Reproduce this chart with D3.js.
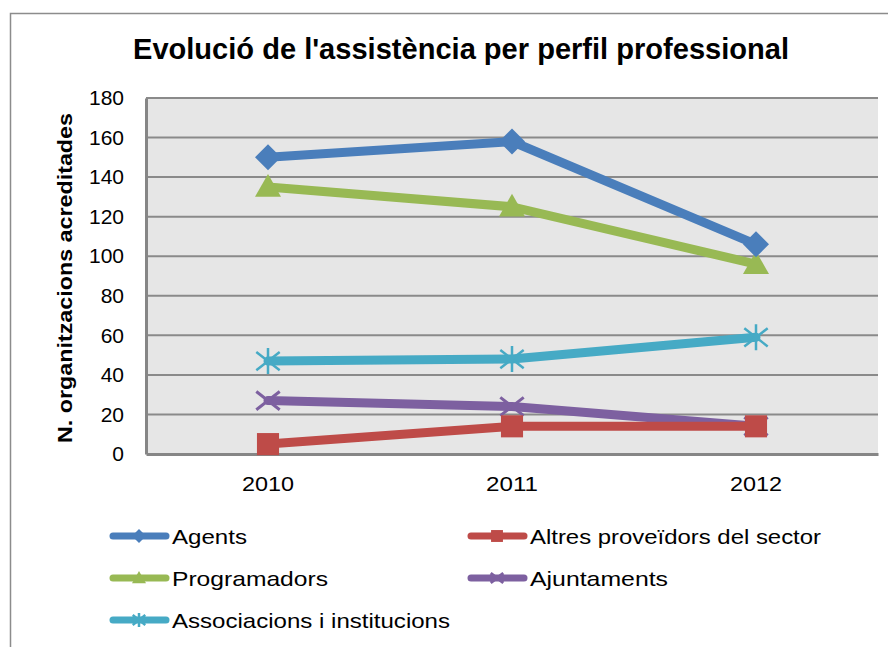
<!DOCTYPE html>
<html>
<head>
<meta charset="utf-8">
<script src="https://cdn.jsdelivr.net/npm/d3@7"></script>
<style>
html,body{margin:0;padding:0;background:#fff;}
svg{display:block;font-family:"Liberation Sans",Arial,sans-serif;}
</style>
</head>
<body>
<svg id="chart" width="888" height="647"></svg>
<script>
const years = ["2010", "2011", "2012"];
const seriesNames = ["Agents", "Altres proveïdors del sector", "Programadors", "Ajuntaments", "Associacions i institucions"];
const agents = [150, 158, 106];
const altres = [5, 14, 14];
const programadors = [135, 125, 96];
const ajuntaments = [27, 24, 14];
const associacions = [47, 48, 59];
const yTicks = [0, 20, 40, 60, 80, 100, 120, 140, 160, 180];
const colors = ["#4A7EBB", "#BE4B48", "#98B954", "#7D60A0", "#46AAC5"];
const markers = ["diamond", "square", "triangle", "x", "star"];

const series = [
  {name: seriesNames[0], values: agents, color: colors[0], marker: markers[0]},
  {name: seriesNames[1], values: altres, color: colors[1], marker: markers[1]},
  {name: seriesNames[2], values: programadors, color: colors[2], marker: markers[2]},
  {name: seriesNames[3], values: ajuntaments, color: colors[3], marker: markers[3]},
  {name: seriesNames[4], values: associacions, color: colors[4], marker: markers[4]}
];
const drawOrder = [4, 3, 1, 2, 0];

const svg = d3.select("#chart");
const plot = {left: 146, right: 878, top: 98, bottom: 454};

svg.append("rect").attr("x", 10.5).attr("y", 13.5).attr("width", 900).attr("height", 700)
  .attr("fill", "#fff").attr("stroke", "#8c8c8c").attr("stroke-width", 1.5);

svg.append("text").attr("x", 461).attr("y", 59).attr("text-anchor", "middle")
  .attr("font-size", 29).attr("font-weight", "bold").attr("fill", "#000")
  .attr("textLength", 656).attr("lengthAdjust", "spacingAndGlyphs")
  .text("Evolució de l'assistència per perfil professional");

const x = d3.scaleBand().domain(years).range([plot.left, plot.right]).padding(0);
const y = d3.scaleLinear().domain([0, 180]).range([plot.bottom, plot.top]);

svg.append("rect").attr("x", plot.left).attr("y", plot.top)
  .attr("width", plot.right - plot.left).attr("height", plot.bottom - plot.top)
  .attr("fill", "#e6e6e6");

svg.append("g").selectAll("line").data(yTicks.filter(d => d > 0)).join("line")
  .attr("x1", plot.left).attr("x2", plot.right)
  .attr("y1", d => y(d)).attr("y2", d => y(d))
  .attr("stroke", "#8a8a8a").attr("stroke-width", 2);

const yAxis = svg.append("g").attr("transform", `translate(${plot.left},0)`)
  .call(d3.axisLeft(y).tickValues(yTicks).tickSize(0).tickPadding(22));
yAxis.select(".domain").attr("stroke", "#868686").attr("stroke-width", 3);
yAxis.selectAll("text").attr("font-size", 21).attr("fill", "#000")
  .attr("font-family", "'Liberation Sans',Arial,sans-serif");

const xAxis = svg.append("g").attr("transform", `translate(0,${plot.bottom})`)
  .call(d3.axisBottom(x).tickSize(0).tickPadding(22));
xAxis.select(".domain").attr("stroke", "#868686").attr("stroke-width", 3);
xAxis.selectAll("text").attr("font-size", 21).attr("fill", "#000")
  .attr("font-family", "'Liberation Sans',Arial,sans-serif")
  .attr("textLength", 52).attr("lengthAdjust", "spacingAndGlyphs");

svg.append("text").attr("transform", "translate(72,278) rotate(-90)")
  .attr("text-anchor", "middle").attr("font-size", 21).attr("font-weight", "bold")
  .attr("textLength", 330).attr("lengthAdjust", "spacingAndGlyphs")
  .text("N. organitzacions acreditades");

function drawMarker(g, type, cx, cy, s, color) {
  const h = s / 2;
  if (type === "diamond") {
    g.append("path").attr("d", `M${cx},${cy - h}L${cx + h},${cy}L${cx},${cy + h}L${cx - h},${cy}Z`).attr("fill", color);
  } else if (type === "square") {
    g.append("rect").attr("x", cx - h * 0.85).attr("y", cy - h * 0.85).attr("width", s * 0.85).attr("height", s * 0.85).attr("fill", color);
  } else if (type === "triangle") {
    g.append("path").attr("d", `M${cx},${cy - h}L${cx + h},${cy + h * 0.75}L${cx - h},${cy + h * 0.75}Z`).attr("fill", color);
  } else if (type === "x") {
    g.append("path").attr("d", `M${cx - h * 0.9},${cy - h * 0.7}L${cx + h * 0.9},${cy + h * 0.7}M${cx + h * 0.9},${cy - h * 0.7}L${cx - h * 0.9},${cy + h * 0.7}`)
      .attr("stroke", color).attr("stroke-width", 3);
  } else if (type === "star") {
    g.append("path").attr("d", `M${cx - h * 0.9},${cy - h * 0.7}L${cx + h * 0.9},${cy + h * 0.7}M${cx + h * 0.9},${cy - h * 0.7}L${cx - h * 0.9},${cy + h * 0.7}M${cx},${cy - h}L${cx},${cy + h}`)
      .attr("stroke", color).attr("stroke-width", 2.5);
  }
}

const line = d3.line().x((d, i) => x(years[i]) + x.bandwidth() / 2).y(d => y(d));

drawOrder.forEach(idx => {
  const s = series[idx];
  const g = svg.append("g");
  g.append("path").attr("d", line(s.values)).attr("fill", "none")
    .attr("stroke", s.color).attr("stroke-width", 9)
    .attr("stroke-linejoin", "round").attr("stroke-linecap", "round");
  s.values.forEach((v, i) => {
    drawMarker(g, s.marker, x(years[i]) + x.bandwidth() / 2, y(v), 26, s.color);
  });
});

const legendPos = [
  {x: 110, y: 536}, {x: 468, y: 536},
  {x: 110, y: 578}, {x: 468, y: 578},
  {x: 110, y: 620}
];
const legendLen = [75, 291, 156, 138, 278];
series.forEach((s, i) => {
  const p = legendPos[i];
  const g = svg.append("g");
  g.append("line").attr("x1", p.x + 3).attr("x2", p.x + 56).attr("y1", p.y).attr("y2", p.y)
    .attr("stroke", s.color).attr("stroke-width", 7).attr("stroke-linecap", "round");
  drawMarker(g, s.marker, p.x + 29, p.y, 14, s.color);
  g.append("text").attr("x", p.x + 62).attr("y", p.y + 7.5).attr("font-size", 21).attr("fill", "#000")
    .attr("textLength", legendLen[i]).attr("lengthAdjust", "spacingAndGlyphs")
    .text(s.name);
});
</script>
</body>
</html>
